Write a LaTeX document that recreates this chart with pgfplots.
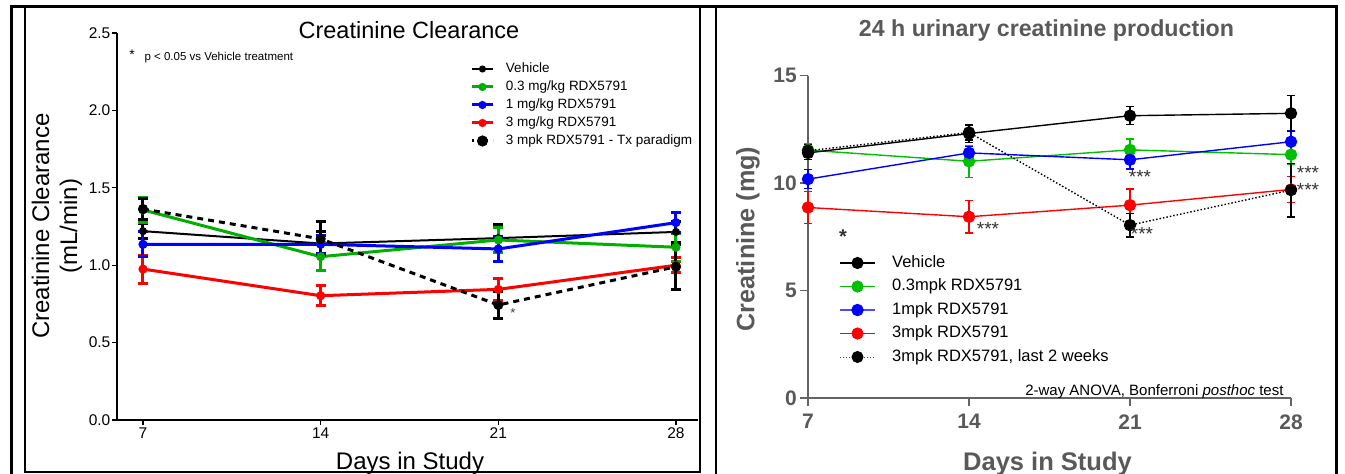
\documentclass[border=0pt]{standalone}
\usepackage{pgfplots}
\usepackage{pgfplotstable}
\pgfplotsset{compat=1.18}
\usepackage{fontspec}
\setmainfont{Liberation Sans}

\definecolor{lgreen}{RGB}{0,176,0}
\definecolor{rgreen}{RGB}{0,192,0}
\definecolor{pblue}{RGB}{0,0,255}
\definecolor{pred}{RGB}{255,0,0}
\definecolor{tgray}{RGB}{89,89,89}
\definecolor{agray}{RGB}{100,100,100}
\definecolor{sgray}{RGB}{60,60,70}
\newcommand\fs[1]{\fontsize{#1}{#1}\selectfont}

% Creatinine clearance (mL/min): day, mean, SEM
\pgfplotstableread{
day mean err
7  1.220 0.050
14 1.140 0.080
21 1.175 0.090
28 1.215 0.070
}\clVeh
\pgfplotstableread{
day mean err
7  1.357 0.080
14 1.055 0.090
21 1.163 0.080
28 1.116 0.090
}\clLow
\pgfplotstableread{
day mean err
7  1.135 0.080
14 1.135 0.060
21 1.105 0.080
28 1.275 0.065
}\clMid
\pgfplotstableread{
day mean err
7  0.975 0.090
14 0.803 0.065
21 0.844 0.070
28 1.000 0.050
}\clHigh
\pgfplotstableread{
day mean err
7  1.363 0.070
14 1.170 0.110
21 0.743 0.085
28 0.990 0.145
}\clTx

% 24 h urinary creatinine (mg): day, mean, SEM
\pgfplotstableread{
day mean err
7  11.40 0.30
14 12.30 0.43
21 13.13 0.42
28 13.24 0.83
}\ucVeh
\pgfplotstableread{
day mean err
7  11.53 0.30
14 11.01 0.75
21 11.54 0.50
28 11.32 0.44
}\ucLow
\pgfplotstableread{
day mean err
7  10.18 0.45
14 11.40 0.30
21 11.08 0.43
28 11.92 0.50
}\ucMid
\pgfplotstableread{
day mean err
7  8.86 0.75
14 8.43 0.75
21 8.97 0.75
28 9.70 0.60
}\ucHigh
\pgfplotstableread{
day mean err
7  11.50 0.30
14 12.35 0.35
21 8.04 0.55
28 9.67 1.25
}\ucTx

\pgfplotsset{
  lser/.style={line width=3pt, mark=*, mark size=3pt, mark options={solid},
    error bars/y dir=both, error bars/y explicit,
    error bars/error bar style={line width=3pt, solid},
    error bars/error mark options={rotate=90, line width=3pt, mark size=5pt, solid}},
  rser/.style={line width=1.4pt, mark=*, mark size=5.5pt, mark options={solid},
    error bars/y dir=both, error bars/y explicit,
    error bars/error bar style={line width=1.3pt, solid},
    error bars/error mark options={rotate=90, line width=1.3pt, mark size=3.8pt, solid}},
}

\begin{document}
\begin{tikzpicture}
\useasboundingbox (0pt,0pt) rectangle (1345pt,-474pt);
\clip (0pt,0pt) rectangle (1345pt,-474pt);

% ---------- left panel: creatinine clearance ----------
\begin{axis}[
  at={(117pt,-420pt)}, anchor=south west,
  scale only axis, width=581pt, height=387pt,
  xmin=5.976, xmax=28.868, ymin=0, ymax=2.5,
  axis x line=bottom, axis y line=left,
  axis line style={-, line width=1.3pt, black},
  xtick={7,14,21,28}, ytick={0,0.5,1,1.5,2,2.5},
  tick align=outside, major tick length=4.5pt,
  tick style={line width=1.2pt, black},
  /pgf/number format/assume math mode=true,
  yticklabel={\pgfmathprintnumber[fixed,fixed zerofill,precision=1]{\tick}},
  ticklabel style={font=\fs{15.5}},
  yticklabel style={inner xsep=2pt},
  clip=false,
  legend style={at={(0.6084,0.9238)}, anchor=north west, draw=none, fill=none,
    inner sep=0pt, outer sep=0pt, font=\fs{13.5}, row sep=5pt,
    nodes={inner sep=0pt, text height=10pt, text depth=3pt},
    /tikz/every odd column/.append style={column sep=11.5pt}},
  legend cell align=left,
  legend image code/.code={\draw[mark repeat=2,mark phase=2,#1]
    plot coordinates {(0pt,0pt)(10.5pt,0pt)(21pt,0pt)};},
]
\addplot[lser, black, line width=2pt, forget plot] table[x=day,y=mean,y error=err] {\clVeh};
\addplot[lser, lgreen, forget plot] table[x=day,y=mean,y error=err] {\clLow};
\addplot[lser, pred, forget plot] table[x=day,y=mean,y error=err] {\clHigh};
\addplot[lser, pblue, forget plot] table[x=day,y=mean,y error=err] {\clMid};
\addplot[lser, black, dash pattern=on 6pt off 5pt, mark size=3.5pt, forget plot] table[x=day,y=mean,y error=err] {\clTx};

\addlegendimage{black, line width=2pt, mark=*, mark size=2.5pt}
\addlegendentry{Vehicle}
\addlegendimage{lgreen, line width=3pt, mark=*, mark size=2.5pt}
\addlegendentry{0.3 mg/kg RDX5791}
\addlegendimage{pblue, line width=3pt, mark=*, mark size=2.5pt}
\addlegendentry{1 mg/kg RDX5791}
\addlegendimage{pred, line width=3pt, mark=*, mark size=2.5pt}
\addlegendentry{3 mg/kg RDX5791}
\addlegendimage{black, line width=3pt, dash pattern=on 2pt off 5pt, mark=*, mark size=4pt, mark options={solid}}
\addlegendentry{3 mpk RDX5791 - Tx paradigm}
\end{axis}

% ---------- right panel: 24 h urinary creatinine ----------
\begin{axis}[
  at={(808pt,-398pt)}, anchor=south west,
  scale only axis, width=483pt, height=322.5pt,
  xmin=7, xmax=28, ymin=0, ymax=15,
  axis x line=bottom, axis y line=left,
  axis line style={-, line width=1.3pt, agray},
  xtick={7,14,21,28}, ytick={0,5,10,15},
  tick align=outside, major tick length=8pt,
  tick style={line width=1.3pt, agray},
  /pgf/number format/assume math mode=true,
  ticklabel style={font=\bfseries\fs{21}, text=tgray},
  yticklabel style={inner xsep=3pt},
  xticklabel style={yshift=-5pt},
  clip=false,
  legend style={at={(0.0648,0.4434)}, anchor=north west, draw=none, fill=none,
    inner sep=0pt, outer sep=0pt, font=\fs{16.5}, row sep=7.5pt,
    nodes={inner sep=0pt, text height=12pt, text depth=4pt},
    /tikz/every odd column/.append style={column sep=16.5pt}},
  legend cell align=left,
  legend image code/.code={\draw[mark repeat=2,mark phase=2,#1]
    plot coordinates {(0pt,0pt)(17.5pt,0pt)(35pt,0pt)};},
]
\addplot[rser, pred, forget plot] table[x=day,y=mean,y error=err] {\ucHigh};
\addplot[rser, rgreen, forget plot] table[x=day,y=mean,y error=err] {\ucLow};
\addplot[rser, pblue, forget plot] table[x=day,y=mean,y error=err] {\ucMid};
\addplot[rser, black, dash pattern=on 1.5pt off 2pt, forget plot] table[x=day,y=mean,y error=err] {\ucTx};
\addplot[rser, black, forget plot] table[x=day,y=mean,y error=err] {\ucVeh};

\addlegendimage{black, line width=1.2pt, mark=*, mark size=5.5pt}
\addlegendentry{Vehicle}
\addlegendimage{rgreen, line width=1.2pt, mark=*, mark size=5.5pt}
\addlegendentry{0.3mpk RDX5791}
\addlegendimage{pblue!70, line width=1.4pt, mark=*, mark size=5.5pt, mark options={pblue}}
\addlegendentry{1mpk RDX5791}
\addlegendimage{pred, line width=1.2pt, mark=*, mark size=5.5pt}
\addlegendentry{3mpk RDX5791}
\addlegendimage{black!70, line width=1pt, dash pattern=on 1pt off 2pt, mark=*, mark size=5.5pt, mark options={solid, black}}
\addlegendentry{3mpk RDX5791, last 2 weeks}
\end{axis}

% ---------- frames ----------
\draw[line width=3pt] (11.5pt,-474pt) -- (11.5pt,-6pt) -- (1336.5pt,-6pt) -- (1336.5pt,-474pt);
\draw[line width=2pt] (25pt,-6pt) rectangle (700pt,-472pt);
\draw[line width=2pt] (715.5pt,-6pt) -- (715.5pt,-474pt);

% ---------- left panel text ----------
\node[font=\fs{23.5}] at (409pt,-30pt) {Creatinine Clearance};
\node[font=\fs{24}, anchor=base] at (410pt,-469.6pt) {Days in Study};
\node[font=\fontsize{24}{28}\selectfont, rotate=90, align=center] at (57pt,-226pt) {Creatinine Clearance\\(mL/min)};
\node[font=\fs{14}] at (132pt,-55pt) {*};
\node[font=\fs{11.5}, anchor=west] at (141pt,-58pt) {p < 0.05 vs Vehicle treatment};
\node[font=\fs{13}, text=sgray] at (513pt,-313pt) {*};

% ---------- right panel text ----------
\node[font=\bfseries\fs{23.2}, text=tgray, anchor=base] at (1046.5pt,-36.3pt) {24 h urinary creatinine production};
\node[font=\bfseries\fs{25.5}, text=tgray, anchor=base] at (1047.5pt,-470.5pt) {Days in Study};
\node[font=\bfseries\fs{25.2}, text=tgray, rotate=90] at (748pt,-239pt) {Creatinine (mg)};
\node[font=\fs{15}, anchor=base east] at (1287pt,-395pt) {2-way ANOVA, Bonferroni \textit{posthoc} test};
\node[font=\bfseries\fs{20}, text=black!80] at (843pt,-237pt) {*};
\node[font=\fs{19}, text=black!80] at (988pt,-229pt) {***};
\node[font=\fs{19}, text=black!80] at (1140pt,-177pt) {***};
\node[font=\fs{19}, text=black!80] at (1142pt,-234pt) {***};
\node[font=\fs{19}, text=black!80] at (1308pt,-173pt) {***};
\node[font=\fs{19}, text=black!80] at (1308pt,-190pt) {***};
\end{tikzpicture}
\end{document}
